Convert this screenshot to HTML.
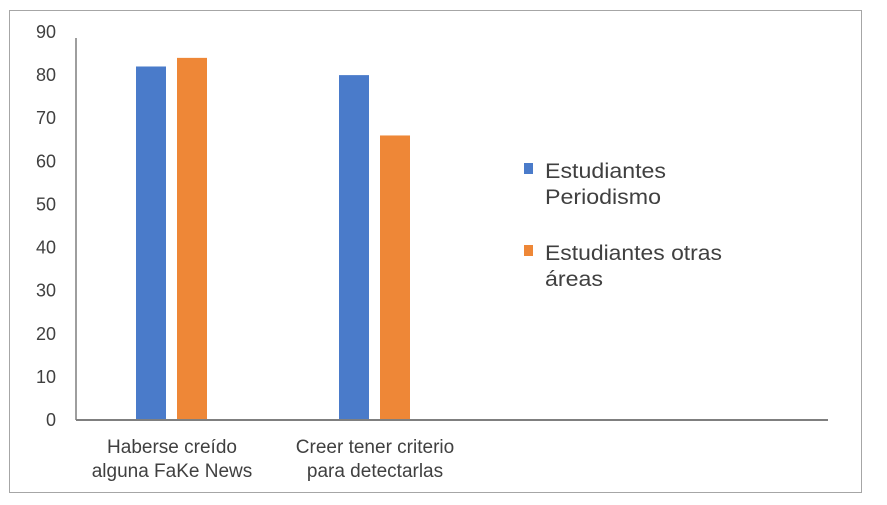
<!DOCTYPE html>
<html><head><meta charset="utf-8"><style>
body{margin:0;background:#fff;}
svg text{font-family:"Liberation Sans",sans-serif;fill:#404040;}
</style></head><body>
<svg width="887" height="500">
<rect x="9.5" y="10.5" width="852" height="482" fill="#fff" stroke="#a6a6a6"/>
<g id="yaxis"></g><g id="bars"></g><g id="xlabels"></g>
<line x1="76" y1="38" x2="76" y2="420" stroke="#7f7f7f" stroke-width="1.5"/>
<line x1="76" y1="420" x2="828" y2="420" stroke="#7f7f7f" stroke-width="2"/>
<g>
<rect x="524" y="163" width="9" height="11" fill="#4a7bca"/>
<text x="545" y="178" font-size="21" textLength="121" lengthAdjust="spacingAndGlyphs">Estudiantes</text>
<text x="545" y="204" font-size="21" textLength="116" lengthAdjust="spacingAndGlyphs">Periodismo</text>
<rect x="524" y="245" width="9" height="11" fill="#ee8737"/>
<text x="545" y="260" font-size="21" textLength="177" lengthAdjust="spacingAndGlyphs">Estudiantes otras</text>
<text x="545" y="286" font-size="21" textLength="58" lengthAdjust="spacingAndGlyphs">áreas</text>
</g>
</svg>
<script>
const categories=[["Haberse creído","alguna FaKe News"],["Creer tener criterio","para detectarlas"]];
const periodismo=[82,80];
const otras=[84,66];
const ticks=[0,10,20,30,40,50,60,70,80,90];
const NS="http://www.w3.org/2000/svg";
const y0=420,yTop=32,maxV=90;
const y=v=>y0-(v/maxV)*(y0-yTop);
const catCenter=i=>172+i*203;
function mk(t,a,p){const e=document.createElementNS(NS,t);for(const k in a)e.setAttribute(k,a[k]);p.appendChild(e);return e;}
const ya=document.getElementById('yaxis');
ticks.forEach(t=>{const e=mk('text',{x:56,y:y(t)+6,'font-size':18,'text-anchor':'end'},ya);


e.textContent=t;});
const b=document.getElementById('bars');
[[periodismo,'#4a7bca',-36,'periodismo'],[otras,'#ee8737',5,'otras']].forEach(([arr,c,off,n])=>{
arr.forEach((v,i)=>{const r=mk('rect',{x:catCenter(i)+off,y:y(v),width:30,height:y0-y(v),fill:c},b);

});});
const xl=document.getElementById('xlabels');
categories.forEach((lines,i)=>{lines.forEach((l,j)=>{const e=mk('text',{x:catCenter(i),y:453+j*24,'font-size':19,'text-anchor':'middle'},xl);


e.textContent=l;});});
</script>
</body></html>
